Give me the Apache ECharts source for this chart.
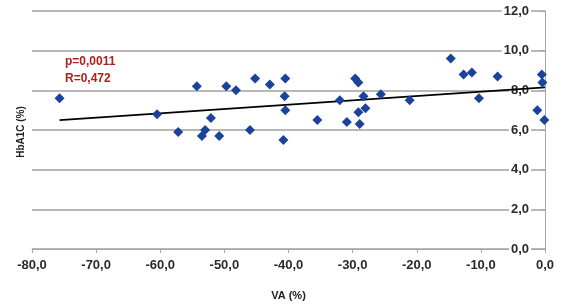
<!DOCTYPE html>
<html>
<head>
<meta charset="utf-8">
<script src="https://cdn.jsdelivr.net/npm/echarts@6/dist/echarts.min.js"></script>
<style>html,body{margin:0;padding:0;background:#fff;}#c{width:565px;height:306px;}</style>
</head>
<body>
<div id="c"></div>
<script>
var vaX = [-75.7, -60.5, -57.2, -54.3, -53.5, -53.0, -52.1, -50.8, -49.7, -48.2, -46.0, -45.2, -42.9, -40.5, -40.6, -40.5, -40.8, -35.5, -32.0, -30.9, -29.6, -29.1, -28.3, -29.1, -28.0, -28.9, -25.6, -21.1, -14.7, -12.7, -11.4, -10.3, -7.4, -0.5, -0.4, -1.2, -0.1];
var hba1c = [7.6, 6.8, 5.9, 8.2, 5.7, 6.0, 6.6, 5.7, 8.2, 8.0, 6.0, 8.6, 8.3, 8.6, 7.7, 7.0, 5.5, 6.5, 7.5, 6.4, 8.6, 8.4, 7.7, 6.9, 7.1, 6.3, 7.8, 7.5, 9.6, 8.8, 8.9, 7.6, 8.7, 8.8, 8.4, 7.0, 6.5];
var trendX = [-75.7, 0];
var trendY = [6.5, 8.15];
var xTicks = [-80, -70, -60, -50, -40, -30, -20, -10, 0];
var yTicks = [0, 2, 4, 6, 8, 10, 12];
var statsText = ['p=0,0011', 'R=0,472'];

function fmt(v){ return v.toFixed(1).replace('.', ','); }
var pts = vaX.map(function(x,i){ return [x, hba1c[i]]; });
var trend = trendX.map(function(x,i){ return [x, trendY[i]]; });
var font = '"Liberation Sans", Arial, sans-serif';

var chart = echarts.init(document.getElementById('c'), null, {renderer:'canvas'});
chart.setOption({
  animation: false,
  backgroundColor: '#fff',
  grid: {left: 32, right: 20, top: 11, bottom: 54, containLabel: false},
  xAxis: {
    type: 'value', min: xTicks[0], max: xTicks[xTicks.length-1], interval: 10,
    name: 'VA (%)', nameLocation: 'middle', nameGap: 41,
    nameTextStyle: {fontFamily: font, fontWeight: 'bold', fontSize: 11, color: '#222'},
    axisLine: {show: true, onZero: false, lineStyle: {color: '#a6a6a6', width: 1}},
    axisTick: {show: true, length: 4, lineStyle: {color: '#a6a6a6'}},
    axisLabel: {formatter: fmt, fontFamily: font, fontWeight: 'bold', fontSize: 13, color: '#2a2a2a', margin: 10},
    splitLine: {show: false}
  },
  yAxis: {
    type: 'value', position: 'right', min: yTicks[0], max: yTicks[yTicks.length-1], interval: 2,
    axisLine: {show: true, lineStyle: {color: '#a6a6a6', width: 1}},
    axisTick: {show: true, inside: true, length: 5, lineStyle: {color: '#a6a6a6'}},
    axisLabel: {inside: true, formatter: fmt, fontFamily: font, fontWeight: 'bold', fontSize: 13, color: '#2a2a2a', margin: 14, backgroundColor: '#fff', padding: [0, 2, 0, 2]},
    splitLine: {show: true, lineStyle: {color: '#b8b8b8', width: 2}}
  },
  series: [
    {type: 'line', data: trend, symbol: 'none', lineStyle: {color: '#000', width: 1.6}, z: 3},
    {type: 'scatter', data: pts, symbol: 'diamond', symbolSize: 10, itemStyle: {color: '#1c439a', opacity: 1}, z: 4}
  ],
  graphic: [
    {type: 'text', left: 65, top: 56, style: {text: statsText[0], fill: '#b01e1e', font: 'bold 12px ' + font}},
    {type: 'text', left: 65, top: 73, style: {text: statsText[1], fill: '#b01e1e', font: 'bold 12px ' + font}},
    {type: 'text', x: 21, y: 132, rotation: Math.PI/2, style: {text: 'HbA1C (%)', fill: '#222', font: 'bold 10px ' + font, align: 'center', verticalAlign: 'middle'}}
  ]
});
</script>
</body>
</html>
